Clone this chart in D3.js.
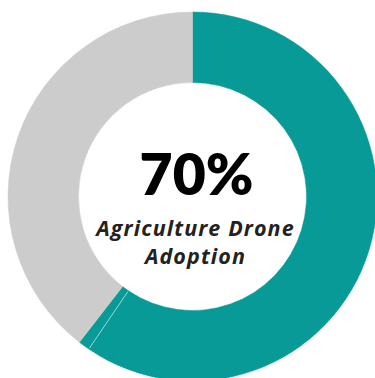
<!DOCTYPE html>
<html>
<head>
<meta charset="utf-8">
<script src="https://cdn.jsdelivr.net/npm/d3@7"></script>
<style>
  html, body { margin: 0; padding: 0; background: #ffffff; }
  svg { display: block; }
</style>
</head>
<body>
<svg id="chart" width="375" height="378"></svg>
<script>
// Segment shares of the ring, clockwise from 12 o'clock
const segments = ["Adopted", "Adopted (recent)", "Not adopted"];
const shares = [59.5, 1, 39.5];
const segmentColors = ["#079a96", "#079a96", "#cccccc"];

// Centre label
const headline = "70%";
const captionLines = ["Agriculture Drone", "Adoption"];

const width = 375, height = 378;
const cx = 192.5, cy = 196.5;
const outerR = 184.5, innerR = 114;

const svg = d3.select("#chart");
const g = svg.append("g").attr("transform", `translate(${cx},${cy})`);

const pie = d3.pie().sort(null).value(d => d)(shares);
const arc = d3.arc().innerRadius(innerR).outerRadius(outerR);

g.selectAll("path.slice")
  .data(pie)
  .join("path")
  .attr("class", "slice")
  .attr("d", arc)
  .attr("fill", (d, i) => segmentColors[i])
  .attr("stroke", (d, i) => segmentColors[i])
  .attr("stroke-width", 0.5);

// faint seam where the small segment begins
const seamAngle = pie[1].startAngle;
const p0 = d3.pointRadial(seamAngle, innerR + 1);
const p1 = d3.pointRadial(seamAngle, outerR - 1);
g.append("line")
  .attr("x1", p0[0]).attr("y1", p0[1])
  .attr("x2", p1[0]).attr("y2", p1[1])
  .attr("stroke", "#9ad8d4")
  .attr("stroke-width", 1);

// centre text
const text = svg.append("g").attr("text-anchor", "middle");
text.append("text")
  .attr("x", 196.5).attr("y", 195)
  .attr("font-family", "Lato, 'Open Sans', sans-serif")
  .attr("font-weight", 800)
  .attr("font-size", 57)
  .attr("fill", "#000000")
  .text(headline);

text.selectAll("text.caption")
  .data(captionLines)
  .join("text")
  .attr("class", "caption")
  .attr("x", 195.5)
  .attr("y", (d, i) => 235.5 + i * 28.5)
  .attr("font-family", "'Open Sans', Lato, sans-serif")
  .attr("font-weight", 700)
  .attr("font-style", "italic")
  .attr("font-size", 21.5)
  .attr("letter-spacing", 1.1)
  .attr("fill", "#222222")
  .text(d => d);
</script>
</body>
</html>
